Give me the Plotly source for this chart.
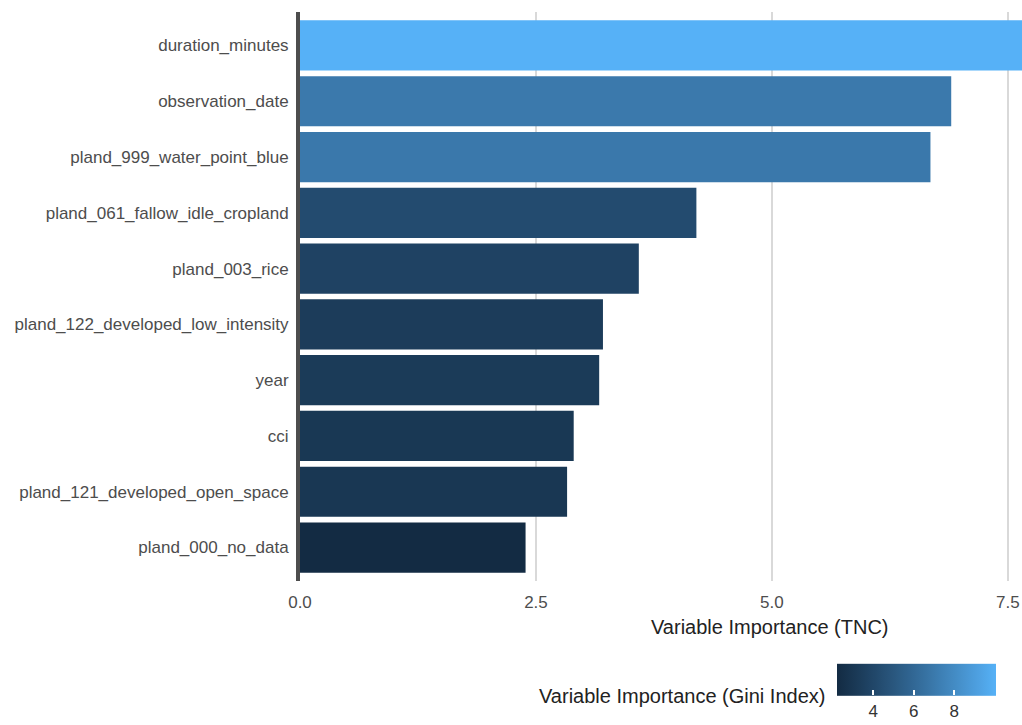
import numpy as np
import plotly.graph_objects as go

# Variable importance from the random forest, top 10 predictors
variables = [
    "duration_minutes",
    "observation_date",
    "pland_999_water_point_blue",
    "pland_061_fallow_idle_cropland",
    "pland_003_rice",
    "pland_122_developed_low_intensity",
    "year",
    "cci",
    "pland_121_developed_open_space",
    "pland_000_no_data",
]
importance_tnc = [9.9, 6.9, 6.68, 4.2, 3.59, 3.21, 3.17, 2.9, 2.83, 2.39]
importance_gini = [10.07, 7.0, 6.95, 4.3, 3.75, 3.35, 3.25, 3.05, 3.0, 2.22]
gini_ticks = [4, 6, 8]

FONT = "Liberation Sans, Arial, sans-serif"


# ---- ggplot-style gradient (interpolated in CIE Lab) ----
def _srgb_to_lin(c):
    c = c / 255.0
    return np.where(c <= 0.04045, c / 12.92, ((c + 0.055) / 1.055) ** 2.4)


def _lin_to_srgb(c):
    c = np.clip(c, 0, 1)
    v = np.where(c <= 0.0031308, 12.92 * c, 1.055 * c ** (1 / 2.4) - 0.055)
    return np.clip(np.round(v * 255), 0, 255).astype(int)


_M = np.array([[0.4124, 0.3576, 0.1805],
               [0.2126, 0.7152, 0.0722],
               [0.0193, 0.1192, 0.9505]])
_WHITE = np.array([0.95047, 1.0, 1.08883])


def hex_to_lab(h):
    rgb = np.array([int(h[i:i + 2], 16) for i in (1, 3, 5)], dtype=float)
    xyz = _M @ _srgb_to_lin(rgb) / _WHITE
    f = np.where(xyz > 216 / 24389, np.cbrt(xyz), (24389 / 27 * xyz + 16) / 116)
    return np.array([116 * f[1] - 16, 500 * (f[0] - f[1]), 200 * (f[1] - f[2])])


def lab_to_hex(lab):
    fy = (lab[0] + 16) / 116
    fx = fy + lab[1] / 500
    fz = fy - lab[2] / 200
    f = np.array([fx, fy, fz])
    xyz = np.where(f ** 3 > 216 / 24389, f ** 3, (116 * f - 16) / (24389 / 27)) * _WHITE
    rgb = _lin_to_srgb(np.linalg.solve(_M, xyz))
    return "#%02x%02x%02x" % tuple(rgb)


low, high = hex_to_lab("#132B43"), hex_to_lab("#56B1F7")
colorscale = [[t, lab_to_hex(low + (high - low) * t)] for t in np.linspace(0, 1, 21)]

fig = go.Figure(
    go.Bar(
        x=importance_tnc,
        y=variables,
        orientation="h",
        marker=dict(
            color=importance_gini,
            colorscale=colorscale,
            cmin=min(importance_gini),
            cmax=max(importance_gini),
            line=dict(width=0),
            colorbar=dict(
                orientation="h",
                x=0.854,
                xanchor="center",
                y=-0.198,
                yanchor="middle",
                thickness=32,
                len=159,
                lenmode="pixels",
                xpad=0,
                ypad=0,
                outlinewidth=0,
                tickvals=gini_ticks,
                ticks="inside",
                ticklen=5,
                tickwidth=1.5,
                tickcolor="white",
                tickfont=dict(family=FONT, size=17, color="#333333"),
            ),
        ),
        hoverinfo="x+y",
    )
)

fig.update_layout(
    width=1022,
    height=725,
    margin=dict(l=300, r=0, t=12, b=143),
    paper_bgcolor="white",
    plot_bgcolor="white",
    bargap=0.1,
    showlegend=False,
    font=dict(family=FONT, color="#4D4D4D"),
    xaxis=dict(
        range=[0, 7.65],
        tickvals=[0, 2.5, 5, 7.5],
        ticktext=["0.0", "2.5", "5.0", "7.5"],
        showgrid=True,
        gridcolor="#D9D9D9",
        gridwidth=1.5,
        zeroline=False,
        showline=False,
        ticks="outside",
        ticklen=6,
        tickcolor="rgba(0,0,0,0)",
        tickfont=dict(family=FONT, size=17, color="#4D4D4D"),
    ),
    yaxis=dict(
        categoryorder="array",
        categoryarray=variables,
        range=[9.6, -0.6],
        showgrid=False,
        zeroline=False,
        showline=True,
        linecolor="#4D4D4D",
        linewidth=4,
        ticks="outside",
        ticklen=4,
        tickcolor="rgba(0,0,0,0)",
        tickfont=dict(family=FONT, size=17, color="#4D4D4D"),
    ),
    annotations=[
        dict(
            text="Variable Importance (TNC)",
            xref="paper", yref="paper",
            x=0.6496, y=-0.0807,
            xanchor="center", yanchor="middle",
            showarrow=False,
            font=dict(family=FONT, size=20, color="#222222"),
        ),
        dict(
            text="Variable Importance (Gini Index)",
            xref="paper", yref="paper",
            x=0.7299, y=-0.2018,
            xanchor="right", yanchor="middle",
            showarrow=False,
            font=dict(family=FONT, size=20, color="#222222"),
        ),
    ],
)

fig.write_html("out.html")
